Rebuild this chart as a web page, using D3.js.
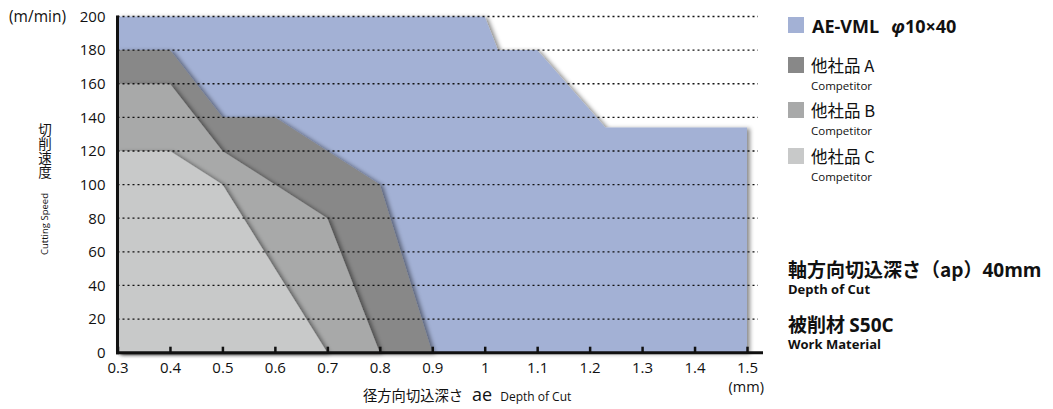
<!DOCTYPE html>
<html><head><meta charset="utf-8">
<script src="https://cdn.jsdelivr.net/npm/d3@7/dist/d3.min.js"></script>
<style>
body{margin:0;background:#fff;}
text{font-family:"Open Sans","Noto Sans CJK JP",sans-serif;fill:#111;}
.jp{font-family:"Noto Sans CJK JP","Open Sans",sans-serif;}
</style></head><body>
<svg id="c" width="1053" height="409"></svg>
<script>
const xTicks = [0.3,0.4,0.5,0.6,0.7,0.8,0.9,1.0,1.1,1.2,1.3,1.4,1.5];
const xTickLabels = ["0.3","0.4","0.5","0.6","0.7","0.8","0.9","1","1.1","1.2","1.3","1.4","1.5"];
const yTicks = [0,20,40,60,80,100,120,140,160,180,200];
const yTickLabels = ["0","20","40","60","80","100","120","140","160","180","200"];

const seriesNames = ["AE-VML","他社品 A","他社品 B","他社品 C"];
const aeVml = [[0.3,0],[0.3,200],[1.0,200],[1.025,180],[1.1,180],[1.23,134],[1.5,134],[1.5,0]];
const compA = [[0.3,0],[0.3,180],[0.4,180],[0.5,140],[0.6,140],[0.7,120],[0.8,100],[0.9,0]];
const compB = [[0.3,0],[0.3,160],[0.4,160],[0.5,120],[0.6,100],[0.7,80],[0.8,0]];
const compC = [[0.3,0],[0.3,120],[0.4,120],[0.5,100],[0.7,0]];
const colors = ["#a3b1d5","#888888","#a8a9a9","#c8c9c9"];

const svg = d3.select("#c");
const x = d3.scaleLinear().domain([0.3,1.5]).range([117.5,747]);
const y = d3.scaleLinear().domain([0,200]).range([352.7,16.5]);

const defs = svg.append("defs");
const f = defs.append("filter").attr("id","sh").attr("x","-10%").attr("y","-10%").attr("width","130%").attr("height","130%");
f.append("feDropShadow").attr("dx",3).attr("dy",1).attr("stdDeviation",2).attr("flood-color","#000").attr("flood-opacity",0.45);

const line = d3.line().x(d=>x(d[0])).y(d=>y(d[1]));
[aeVml,compA,compB,compC].forEach((s,i)=>{
  svg.append("path").attr("d",line(s)+"Z").attr("fill",colors[i]).attr("filter","url(#sh)");
});

// gridlines
svg.append("g").selectAll("line").data(yTicks.filter(d=>d>0)).join("line")
  .attr("x1",x(0.3)).attr("x2",758).attr("y1",d=>y(d)).attr("y2",d=>y(d))
  .attr("stroke","#111").attr("stroke-width",1.3).attr("stroke-dasharray","2,3");

// x axis
const xAxis = d3.axisBottom(x).tickValues(xTicks).tickSize(-6).tickPadding(11)
  .tickFormat((d,i)=>xTickLabels[i]);
const gx = svg.append("g").attr("transform",`translate(0,${y(0)})`).call(xAxis);
gx.select(".domain").remove();
gx.selectAll(".tick line").attr("stroke","#111").attr("stroke-width",2.5);
gx.selectAll(".tick text").attr("font-size",15).attr("fill","#111").attr("dy","0.6em");
svg.append("line").attr("x1",x(0.3)-1.5).attr("x2",763).attr("y1",y(0)).attr("y2",y(0)).attr("stroke","#111").attr("stroke-width",3);

// y axis
const yAxis = d3.axisLeft(y).tickValues(yTicks).tickSize(0).tickPadding(12)
  .tickFormat((d,i)=>yTickLabels[i]);
const gy = svg.append("g").attr("transform",`translate(${x(0.3)},0)`).call(yAxis);
gy.select(".domain").remove();
gy.selectAll(".tick text").attr("font-size",15).attr("fill","#111");
svg.append("line").attr("x1",x(0.3)).attr("x2",x(0.3)).attr("y1",y(200)-1).attr("y2",y(0)+1.5).attr("stroke","#111").attr("stroke-width",3);

// unit labels
svg.append("text").attr("x",66).attr("y",y(200)+5.5).attr("text-anchor","end").attr("font-size",15.5).text("(m/min)");
svg.append("text").attr("x",764).attr("y",392).attr("text-anchor","end").attr("font-size",14.5).text("(mm)");

// x title
const xt = svg.append("text").attr("x",363).attr("y",401).attr("class","jp").attr("font-size",14.3);
xt.append("tspan").text("径方向切込深さ");
xt.append("tspan").attr("dx",9).attr("font-family","Open Sans").attr("font-size",18).text("ae");
xt.append("tspan").attr("font-family","Open Sans").attr("font-size",12).attr("dx",8).text("Depth of Cut");

// y title (vertical)
svg.append("text").attr("class","jp").attr("x",45).attr("y",123)
  .attr("writing-mode","vertical-rl").attr("font-size",13.5).attr("letter-spacing",0.5).text("切削速度");
svg.append("text").attr("transform","translate(48,224) rotate(-90)").attr("text-anchor","middle").attr("font-size",9.5).text("Cutting Speed");

// legend
const lg = svg.append("g");
const legY = [17,57,102,148];
legY.forEach((yy,i)=>{
  lg.append("rect").attr("x",788).attr("y",yy).attr("width",16).attr("height",16).attr("fill",colors[i]);
});
const t0 = lg.append("text").attr("x",812).attr("y",33).attr("font-size",18).attr("font-weight","bold");
t0.append("tspan").text(seriesNames[0]);
t0.append("tspan").attr("dx",12).attr("font-style","italic").text("φ");
t0.append("tspan").text("10×40");
[1,2,3].forEach(i=>{
  const yy = legY[i];
  lg.append("text").attr("class","jp").attr("x",811).attr("y",yy+15).attr("font-size",16.5).text(seriesNames[i]);
  lg.append("text").attr("x",811).attr("y",yy+32.5).attr("font-size",11.5).text("Competitor");
});

// conditions
const c1 = svg.append("text").attr("x",788).attr("y",277).attr("class","jp").attr("font-size",19).attr("font-weight","bold");
c1.append("tspan").text("軸方向切込深さ（ap）");
c1.append("tspan").attr("font-family","Open Sans").text("40mm");
svg.append("text").attr("x",788).attr("y",294).attr("font-size",13).attr("font-weight","bold").text("Depth of  Cut");
const c2 = svg.append("text").attr("x",788).attr("y",332).attr("class","jp").attr("font-size",19).attr("font-weight","bold");
c2.append("tspan").text("被削材 ");
c2.append("tspan").attr("font-family","Open Sans").text("S50C");
svg.append("text").attr("x",788).attr("y",349).attr("font-size",13).attr("font-weight","bold").text("Work Material");
</script>
</body></html>
